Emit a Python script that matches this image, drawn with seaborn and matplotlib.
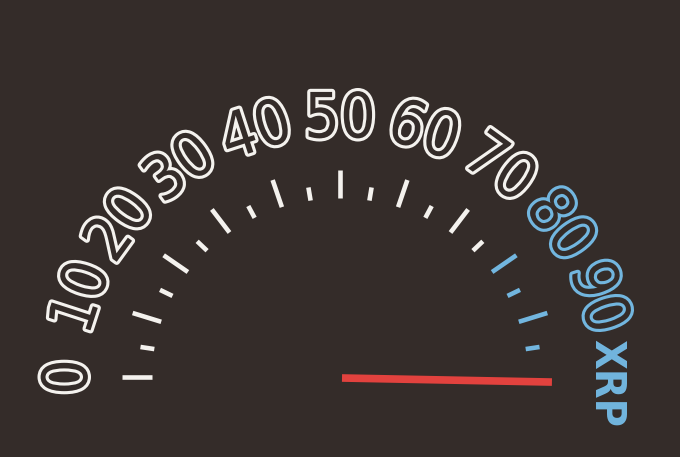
import numpy as np
import pandas as pd
import matplotlib
matplotlib.use("Agg")
import matplotlib.pyplot as plt
import matplotlib.patheffects as pe
from matplotlib import font_manager as fm
import seaborn as sns

# ---- data ----
label_values = [0, 10, 20, 30, 40, 50, 60, 70, 80, 90]
label_texts = ["0", "10", "20", "30", "40", "50", "60", "70", "80", "90"]
major_ticks = [0, 10, 20, 30, 40, 50, 60, 70, 80, 90]
minor_ticks = [5, 15, 25, 35, 45, 55, 65, 75, 85, 95]
unit_label = "XRP"
unit_value = 100
needle_value = 100.8
blue_from = 78

BG = "#342c29"
WHITE = "#f4f2ee"
BLUE = "#72b6df"
RED = "#e2423e"

sns.set_theme(style="dark")

# look for a narrow face among the installed fonts
narrow = None
for f in fm.fontManager.ttflist:
    nm = f.name.lower()
    fn = f.fname.lower()
    if ("narrow" in nm or "condensed" in nm or "condensed" in fn
            or str(f.stretch) in ("condensed", "semi-condensed", "extra-condensed")):
        if "bold" in fn or "oblique" in fn or "italic" in fn:
            continue
        narrow = f
        break

if narrow is not None:
    fam = [narrow.name, 'DejaVu Sans']
    stretch = narrow.stretch if isinstance(narrow.stretch, str) else "normal"
    dsize, usize = 45, 31
else:
    fam = ['DejaVu Sans']
    stretch = "normal"
    dsize, usize = 36, 28
plt.rcParams['font.family'] = fam

fig = plt.figure(figsize=(6.8, 4.57), dpi=100, facecolor=BG)
ax = fig.add_axes([0, 0, 1, 1])
ax.set_facecolor(BG)

CX, CY = 340, 377
SX, SY = 1.0, 0.95


def ang(v):
    return np.deg2rad(180 - 1.8 * v)


def pos(v, r):
    a = ang(v)
    return CX + r * SX * np.cos(a), CY - r * SY * np.sin(a)


def col(v):
    return BLUE if v >= blue_from else WHITE

# ticks
for v in major_ticks:
    x0, y0 = pos(v, 188)
    x1, y1 = pos(v, 218)
    ax.plot([x0, x1], [y0, y1], color=col(v), lw=3.3, solid_capstyle="butt")
for v in minor_ticks:
    x0, y0 = pos(v, 188)
    x1, y1 = pos(v, 202)
    ax.plot([x0, x1], [y0, y1], color=col(v), lw=3.3, solid_capstyle="butt")

# labels (hollow outlined digits)
for v, t in zip(label_values, label_texts):
    x, y = pos(v, 270)
    rot = 90 - 1.8 * v
    c = col(v)
    ax.text(x, y, t, rotation=rot, rotation_mode="anchor", ha="center", va="center",
            fontsize=dsize, color=BG, fontstretch=stretch,
            path_effects=[pe.withStroke(linewidth=4.5, foreground=c)])

# unit label
x, y = pos(unit_value, 266)
ax.text(x, y + 6, unit_label, rotation=-90, rotation_mode="anchor", ha="center",
        va="center", fontsize=usize, fontweight="bold", color=BLUE,
        fontstretch=stretch)

# needle
nx, ny = pos(needle_value, 212)
needle = pd.DataFrame({"x": [CX + 2, nx], "y": [CY + 1, ny]})
sns.lineplot(data=needle, x="x", y="y", ax=ax, color=RED, lw=5.5,
             sort=False, solid_capstyle="butt")
ax.set_xlim(0, 680)
ax.set_ylim(457, 0)
ax.axis("off")

fig.savefig("out.png", dpi=100, facecolor=BG)
